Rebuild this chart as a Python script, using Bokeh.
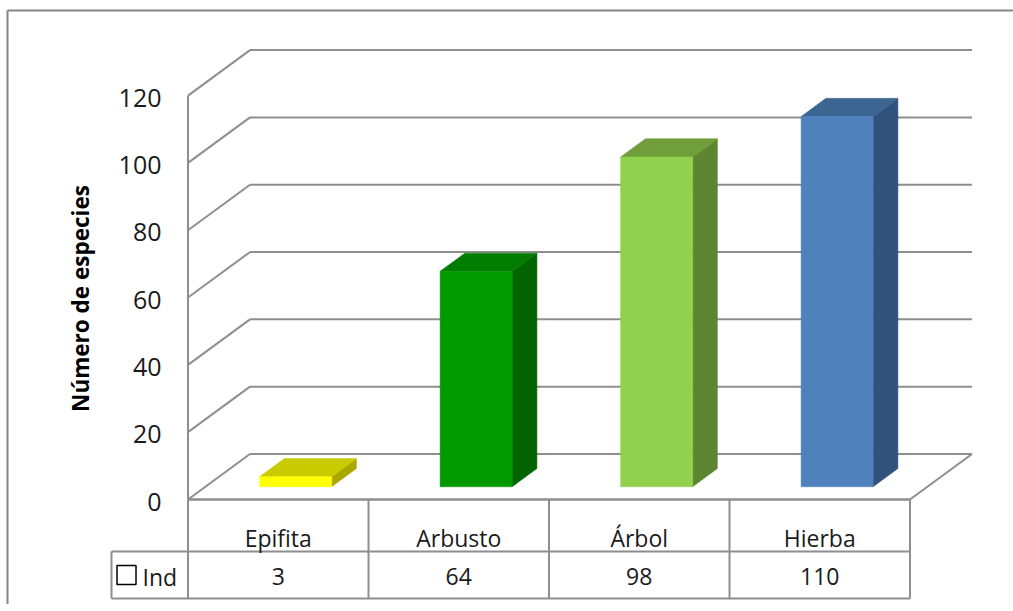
import math
from bokeh.plotting import figure
from bokeh.models import Range1d
from bokeh.core.properties import value
from bokeh.embed import file_html
from bokeh.resources import INLINE

# ---------------- data ----------------
categories = ["Epifita", "Arbusto", "Árbol", "Hierba"]
values = [3, 64, 98, 110]
series_name = "Ind"
y_ticks = [0, 20, 40, 60, 80, 100, 120]
y_title = "Número de especies"
front_colors = ["#FFFF00", "#009A00", "#92D050", "#4F81BD"]
top_colors = ["#CACA00", "#007C00", "#6F9E3A", "#3D6591"]
side_colors = ["#A8A800", "#006400", "#5E8632", "#31527A"]

# ---------------- layout constants (pixels) ----------------
W, H = 1013, 604
X0, CW = 187.5, 180.5          # left front corner of floor, width of a category slot
Y0, VS = 499.0, 3.366          # pixel of value 0 on the front plane, pixels per unit
DEPTH_PX = (62.0, 45.5)        # depth vector of the floor (right, up)
BAR_W_PX = 72.0
F0, F1 = 0.28, 0.68            # bar front / back as a fraction of the depth

def ux(px):   # pixel x -> x units
    return (px - X0) / CW

def uy(py):   # pixel y -> value units
    return (Y0 - py) / VS

DX = DEPTH_PX[0] / CW
DY = DEPTH_PX[1] / VS
N = len(categories)
GRID = "#8E8E8E"

p = figure(width=W, height=H, output_backend="svg", toolbar_location=None,
           x_range=Range1d(ux(0), ux(W)), y_range=Range1d(uy(H), uy(0)),
           x_axis_type=None, y_axis_type=None, min_border=0,
           background_fill_color="white", border_fill_color="white")
p.outline_line_color = None
p.outline_line_alpha = 0

# left wall vertical
p.segment(x0=[0], y0=[0], x1=[0], y1=[max(y_ticks)], line_color=GRID, line_width=2)
# left-wall diagonals and back-wall gridlines
p.segment(x0=[0] * len(y_ticks), y0=y_ticks, x1=[DX] * len(y_ticks),
          y1=[t + DY for t in y_ticks], line_color=GRID, line_width=2)
p.segment(x0=[DX] * len(y_ticks), y0=[t + DY for t in y_ticks],
          x1=[N + DX] * len(y_ticks), y1=[t + DY for t in y_ticks], line_color=GRID, line_width=2)
# floor: front edge and right diagonal
p.segment(x0=[0, N], y0=[0, 0], x1=[N, N + DX], y1=[0, DY], line_color=GRID, line_width=2)

# ---------------- bars ----------------
hw = BAR_W_PX / CW / 2
dd_x = (F1 - F0) * DX
dd_y = (F1 - F0) * DY
lefts, rights, bottoms, tops = [], [], [], []
top_xs, top_ys, side_xs, side_ys = [], [], [], []
for i, v in enumerate(values):
    cx = i + 0.5 + F0 * DX
    b = F0 * DY
    L, R, T = cx - hw, cx + hw, v + F0 * DY
    lefts.append(L); rights.append(R); bottoms.append(b); tops.append(T)
    top_xs.append([L, R, R + dd_x, L + dd_x])
    top_ys.append([T, T, T + dd_y, T + dd_y])
    side_xs.append([R, R, R + dd_x, R + dd_x])
    side_ys.append([b, T, T + dd_y, b + dd_y])

p.patches(xs=side_xs, ys=side_ys, fill_color=side_colors, line_color=side_colors, line_width=0.5)
p.patches(xs=top_xs, ys=top_ys, fill_color=top_colors, line_color=top_colors, line_width=0.5)
p.quad(left=lefts, right=rights, bottom=bottoms, top=tops,
       fill_color=front_colors, line_color=front_colors, line_width=0.5)

# ---------------- tick labels & title ----------------
FONT = value("Open Sans")
p.text(x=[ux(161)] * len(y_ticks), y=[t - 0.6 for t in y_ticks], text=[str(t) for t in y_ticks],
       text_font=FONT, text_font_size="25px", text_align="right", text_baseline="middle",
       text_color="#1A1A1A")
p.text(x=[ux(80)], y=[uy(298)], text=[y_title], angle=math.pi / 2,
       text_font=FONT, text_font_size="22.5px", text_font_style="bold",
       text_align="center", text_baseline="middle", text_color="#000000")

# ---------------- data table ----------------
row1, row2, row3 = uy(499), uy(551), uy(598)
leg_left = ux(111)
col_x = list(range(N + 1))
# horizontal lines
p.segment(x0=[0, leg_left, leg_left], y0=[row1, row2, row3],
          x1=[N, N, N], y1=[row1, row2, row3], line_color=GRID, line_width=2)
# vertical lines
p.segment(x0=col_x, y0=[row1] * len(col_x), x1=col_x, y1=[row3] * len(col_x),
          line_color=GRID, line_width=2)
p.segment(x0=[leg_left], y0=[row2], x1=[leg_left], y1=[row3], line_color=GRID, line_width=2)

p.text(x=[i + 0.5 for i in range(N)], y=[uy(537)] * N, text=categories,
       text_font=FONT, text_font_size="23px", text_align="center", text_baseline="middle",
       text_color="#1A1A1A")
p.text(x=[i + 0.5 for i in range(N)], y=[uy(576)] * N, text=[str(v) for v in values],
       text_font=FONT, text_font_size="23px", text_align="center", text_baseline="middle",
       text_color="#1A1A1A")
# legend key
p.quad(left=[ux(116.5)], right=[ux(135.5)], bottom=[uy(584)], top=[uy(565)],
       fill_color="white", line_color="black", line_width=1.5)
p.text(x=[ux(142)], y=[uy(576)], text=[series_name], text_font=FONT, text_font_size="23px",
       text_align="left", text_baseline="middle", text_color="#1A1A1A")

# white strip along the right edge, then the outer chart border (left + top) on top
p.quad(left=[ux(985)], right=[ux(W + 5)], bottom=[uy(H + 5)], top=[uy(-5)],
       fill_color="white", line_color=None, level="overlay")
p.segment(x0=[ux(7), ux(7)], y0=[uy(10), uy(10)], x1=[ux(7), ux(W + 5)], y1=[uy(H + 5), uy(10)],
          line_color="#868686", line_width=2, level="overlay")

open("out.html", "w").write(file_html(p, INLINE))
